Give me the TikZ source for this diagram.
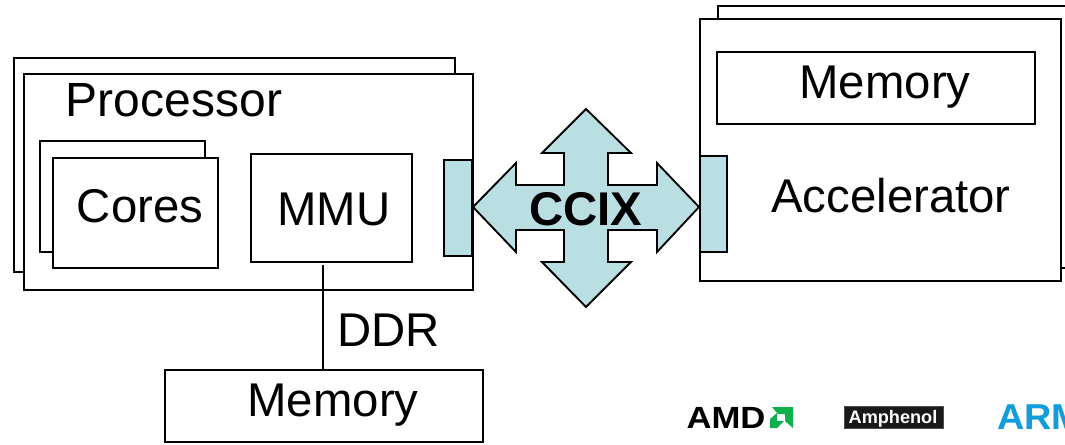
\documentclass[tikz,border=0pt]{standalone}
\usepackage{graphicx}
\usepackage{fontspec}
\setmainfont{Liberation Sans}
\usetikzlibrary{calc}
\definecolor{ccixfill}{HTML}{B9DFE3}
\definecolor{amdgreen}{HTML}{0DB14B}
\definecolor{armblue}{HTML}{0F9DDC}
\tikzset{
  px/.style={x=0.75pt,y=-0.75pt},
  box/.style={draw=black,line width=1.4pt,fill=white,rectangle,inner sep=0pt},
  port/.style={draw=black,line width=1.4pt,fill=ccixfill,rectangle,inner sep=0pt},
  plate/.style={draw=black!70,line width=0.5pt,fill=black!90,rectangle,inner sep=0pt},
  lbl/.style={inner sep=0pt,font=\fontsize{35.5}{35.5}\selectfont,anchor=base},
  logo/.style={inner sep=0pt,anchor=base},
}
\newcommand{\rect}[6][box]{%
  \path let \n1={(#3+#5)/2} , \n2={(#4+#6)/2}, \n3={(#5-#3)*0.75pt}, \n4={(#6-#4)*0.75pt} in
    node[#1,minimum width=\n3,minimum height=\n4] (#2) at (\n1,\n2) {};}
\begin{document}
\begin{tikzpicture}[px]
\useasboundingbox (0,0) rectangle (1065,444);
\clip (0,0) rectangle (1065,444);
\fill[white] (0,0) rectangle (1065,444);
% processor
\rect{procback}{14}{58}{455}{272}
\rect{procfront}{24}{74}{473}{290}
\rect{coreback}{40}{141}{205}{252}
\rect{corefront}{53}{158}{218}{268}
\rect{mmu}{251}{154}{412}{262}
\rect[port]{portl}{444}{160}{472}{256}
% accelerator
\rect{accback}{718}{6}{1085}{268}
\rect{accfront}{700}{19}{1061}{281}
\rect{accmem}{717}{52}{1035}{124}
\rect[port]{portr}{700}{156}{727}{252}
% memory
\rect{mem}{165}{370}{483}{442}
\coordinate (ddrtop) at (323,265);
\coordinate (ddrbot) at (323,370);
\draw[line width=1.1pt] (ddrtop) -- (ddrbot);
% CCIX arrow
\draw[port,line join=miter]
  (586,109) -- (631,153) -- (608,153) -- (608,185) -- (657,185) -- (657,163)
  -- (699,207) -- (657,252) -- (657,230) -- (608,230) -- (608,262) -- (631,262)
  -- (586,307) -- (542,262) -- (564,262) -- (564,230) -- (516,230) -- (516,252)
  -- (473,207) -- (516,163) -- (516,185) -- (564,185) -- (564,153) -- (542,153) -- cycle;
% texts
\node[lbl,font=\fontsize{36}{36}\selectfont] (tproc) at (174,116) {Processor};
\node[lbl] (tcore) at (140,222) {Cores};
\node[lbl] (tmmu) at (334,225) {MMU};
\node[lbl] (tddr) at (388.5,346) {DDR};
\node[lbl] (tmem) at (333,416) {Memory};
\node[lbl] (tamem) at (885,98) {Memory};
\node[lbl] (tacc) at (891,212) {Accelerator};
\node[lbl,font=\fontsize{35.5}{35.5}\selectfont\bfseries] (tccix) at (586,225) {CCIX};
% logos
\node[logo,font=\fontsize{23}{23}\selectfont\bfseries] (amd) at (726,428) {\scalebox{1.13}[1]{AMD}};
\fill[amdgreen] (772,407) -- (793,407) -- (793,428) -- (785,421) -- (785,414) -- (778,414) -- cycle;
\fill[amdgreen] (770,419) -- (777,413) -- (777,421) -- (784,421) -- (777,428) -- (770,428) -- cycle;
\rect[plate]{amphbox}{844}{406}{943}{428}
\node[logo,text=white,font=\fontsize{13.6}{13.6}\selectfont\bfseries] (amph) at (893,423.5) {Amphenol};
\node[logo,anchor=base west,text=armblue,font=\fontsize{27}{27}\selectfont\bfseries] (arm) at (997,429) {\scalebox{1.05}[1]{ARM}};
\end{tikzpicture}
\end{document}
